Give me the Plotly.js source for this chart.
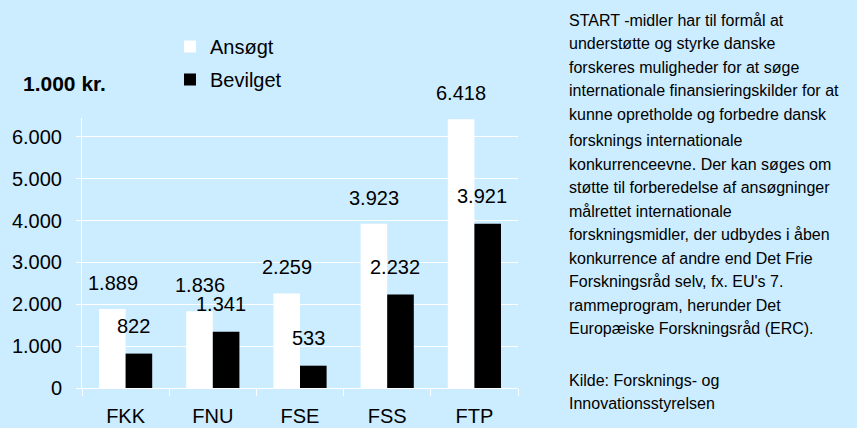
<!DOCTYPE html>
<html>
<head>
<meta charset="utf-8">
<script src="https://cdn.plot.ly/plotly-3.0.1.min.js"></script>
<style>
html,body{margin:0;padding:0;background:rgb(204,236,255);}
#chart{width:857px;height:428px;}
</style>
</head>
<body>
<div id="chart"></div>
<script>
// ---- data ----
const categories = ['FKK', 'FNU', 'FSE', 'FSS', 'FTP'];
const ansoegt = [1889, 1836, 2259, 3923, 6418];
const bevilget = [822, 1341, 533, 2232, 3921];
const seriesNames = ['Ansøgt', 'Bevilget'];
const yTickVals = [0, 1000, 2000, 3000, 4000, 5000, 6000];
const unitLabel = '1.000 kr.';
const noteLines = [
  'START -midler har til formål at',
  'understøtte og styrke danske',
  'forskeres muligheder for at søge',
  'internationale finansieringskilder for at',
  'kunne opretholde og forbedre dansk',
  'forsknings internationale',
  'konkurrenceevne. Der kan søges om',
  'støtte til forberedelse af ansøgninger',
  'målrettet internationale',
  'forskningsmidler, der udbydes i åben',
  'konkurrence af andre end Det Frie',
  'Forskningsråd selv, fx. EU\'s 7.',
  'rammeprogram, herunder Det',
  'Europæiske Forskningsråd (ERC).'
];
const sourceLines = ['Kilde: Forsknings- og', 'Innovationsstyrelsen'];

// ---- helpers ----
const fmt = v => String(v).replace(/\B(?=(\d{3})+(?!\d))/g, '.');
const FONT = 'Liberation Sans, Arial, sans-serif';
const BG = 'rgb(204,236,255)';
// pixel geometry of plot area
const M = {l: 82, r: 339, t: 118, b: 40};
const H = 428, plotH = H - M.t - M.b, plotW = 857 - M.l - M.r;
const pyToPaper = py => (H - M.b - py) / plotH;
const pxToPaper = px => (px - M.l) / plotW;

const traces = [
  {type: 'bar', name: seriesNames[0], x: categories, y: ansoegt,
   marker: {color: '#ffffff', line: {width: 0}}, legendgroup: 'a', hoverinfo: 'x+y'},
  {type: 'bar', name: seriesNames[1], x: categories, y: bevilget,
   marker: {color: '#000000', line: {width: 0}}, legendgroup: 'b', hoverinfo: 'x+y'}
];

const annotations = [];
categories.forEach((c, i) => {
  annotations.push({x: c, y: ansoegt[i], xref: 'x', yref: 'y', text: fmt(ansoegt[i]),
    showarrow: false, xshift: -13, yshift: 26, yanchor: 'middle', xanchor: 'center',
    font: {family: FONT, size: 20, color: '#000'}});
  annotations.push({x: c, y: bevilget[i], xref: 'x', yref: 'y', text: fmt(bevilget[i]),
    showarrow: false, xshift: 8, yshift: 28, yanchor: 'middle', xanchor: 'center',
    font: {family: FONT, size: 20, color: '#000'}});
});
annotations.push({xref: 'paper', yref: 'paper', x: pxToPaper(21), y: pyToPaper(84),
  xanchor: 'left', yanchor: 'middle', text: '<b>' + unitLabel + '</b>', showarrow: false,
  font: {family: FONT, size: 21, color: '#000'}});
noteLines.forEach((t, i) => {
  const py = 20 + i * 23.5 + (i >= 5 ? 3 : 0);
  annotations.push({xref: 'paper', yref: 'paper', x: pxToPaper(567), y: pyToPaper(py),
    xanchor: 'left', yanchor: 'middle', align: 'left', text: t, showarrow: false,
    font: {family: FONT, size: 16, color: '#000'}});
});
sourceLines.forEach((t, i) => {
  annotations.push({xref: 'paper', yref: 'paper', x: pxToPaper(567), y: pyToPaper(380 + i * 23),
    xanchor: 'left', yanchor: 'middle', align: 'left', text: t, showarrow: false,
    font: {family: FONT, size: 16, color: '#000'}});
});

const layout = {
  width: 857, height: 428,
  margin: M,
  paper_bgcolor: BG, plot_bgcolor: BG,
  separators: ',.',
  font: {family: FONT, size: 20, color: '#000'},
  barmode: 'group', bargap: 0.39, bargroupgap: 0,
  showlegend: true,
  legend: {x: pxToPaper(170), y: pyToPaper(27), xanchor: 'left', yanchor: 'top',
    bgcolor: 'rgba(0,0,0,0)', borderwidth: 0, traceorder: 'grouped', tracegroupgap: 4,
    font: {family: FONT, size: 20, color: '#000'}},
  xaxis: {type: 'category', showline: true, linecolor: '#fff', linewidth: 1,
    ticks: 'outside', tickson: 'boundaries', ticklen: 7, tickcolor: '#fff',
    showgrid: false, ticklabelstandoff: 10, tickfont: {family: FONT, size: 20, color: '#000'}},
  yaxis: {range: [0, 6450], tickvals: yTickVals, tickformat: ',d', showline: true,
    linecolor: '#fff', linewidth: 1, ticks: 'outside', ticklen: 5, tickcolor: '#fff',
    showgrid: true, gridcolor: '#fff', gridwidth: 1, zeroline: false,
    ticklabelstandoff: 10, tickfont: {family: FONT, size: 20, color: '#000'}},
  annotations: annotations
};

Plotly.newPlot('chart', traces, layout, {displayModeBar: false, staticPlot: true});
</script>
</body>
</html>
